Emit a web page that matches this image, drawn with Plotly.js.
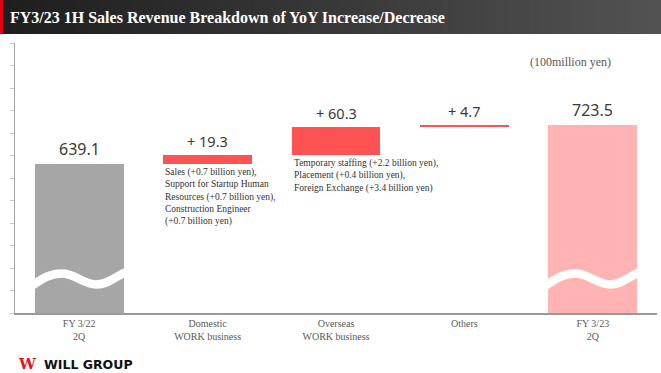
<!DOCTYPE html>
<html>
<head>
<meta charset="utf-8">
<script src="https://cdn.plot.ly/plotly-3.0.1.min.js"></script>
<style>html,body{margin:0;padding:0;background:#fff;}#chart{width:661px;height:373px;}</style>
</head>
<body>
<div id="chart"></div>
<script>
// ---- data ----
const titleText = 'FY3/23 1H Sales Revenue Breakdown of YoY Increase/Decrease';
const categories = ['FY 3/22<br>2Q', 'Domestic<br>WORK business', 'Overseas<br>WORK business', 'Others', 'FY 3/23<br>2Q'];
const measures = ['total', 'delta', 'delta', 'delta', 'total'];
const values = [639.1, 19.3, 60.3, 4.7, 723.5];
const notes = [
  '',
  'Sales (+0.7 billion yen),<br>Support for Startup Human<br>Resources (+0.7 billion yen),<br>Construction Engineer<br>(+0.7 billion yen)',
  'Temporary staffing (+2.2 billion yen),<br>Placement (+0.4 billion yen),<br>Foreign Exchange (+3.4 billion yen)',
  '',
  ''
];
const unitLabel = '(100million yen)';
const brandName = 'WILL GROUP';

// ---- styles ----
const barColors = ['#A6A6A6', '#FF5252', '#FF5252', '#FF5252', '#FFB3B3'];
const W = 661, H = 373;
const M = {l: 15, r: 4, t: 43, b: 60};
const plotW = W - M.l - M.r, plotH = H - M.t - M.b;
const yMin = 316.7, yMax = 900.9;
const kY = plotH / (yMax - yMin);      // px per value unit
const kX = plotW / categories.length;  // px per category
const barWidth = 0.693;

// running bases
const xs = categories.map((c, i) => i);
const bases = [];
let running = 0;
values.forEach((v, i) => {
  if (measures[i] === 'total') { bases.push(0); running = v; }
  else { bases.push(running); running += v; }
});
const tops = values.map((v, i) => bases[i] + v);

const trace = {
  type: 'bar', x: xs, y: values, base: bases, width: barWidth,
  marker: {color: barColors, line: {width: 0}},
  hoverinfo: 'skip', showlegend: false
};

const annotations = [];
values.forEach((v, i) => {
  const isTotal = measures[i] === 'total';
  annotations.push({
    x: i, y: tops[i], xref: 'x', yref: 'y', yanchor: 'bottom', xanchor: 'center', yshift: 2,
    text: isTotal ? v.toFixed(1) : '+ ' + v.toFixed(1), showarrow: false,
    font: {family: 'Noto Sans, Roboto, sans-serif', size: isTotal ? 16 : 14.5, color: '#3a3a3a'}
  });
  if (notes[i]) {
    annotations.push({
      x: i - barWidth / 2, y: bases[i], xref: 'x', yref: 'y', xanchor: 'left', yanchor: 'top', yshift: -1,
      align: 'left', text: notes[i], showarrow: false,
      font: {family: 'Liberation Serif, serif', size: 9.5, color: '#333'}
    });
  }
});
annotations.push({
  xref: 'paper', yref: 'paper', x: (570 - M.l) / plotW, y: (H - M.b - 62) / plotH,
  xanchor: 'center', yanchor: 'middle', showarrow: false, text: unitLabel,
  font: {family: 'Liberation Serif, serif', size: 12, color: '#595959'}
});
// brand
annotations.push({
  xref: 'paper', yref: 'paper', x: (16 - M.l) / plotW, y: (H - M.b - 364) / plotH,
  xanchor: 'left', yanchor: 'middle', showarrow: false, text: '<b>W</b>',
  font: {family: 'DejaVu Serif, serif', size: 15, color: '#E8141B'}
});
annotations.push({
  xref: 'paper', yref: 'paper', x: (42 - M.l) / plotW, y: (H - M.b - 364) / plotH,
  xanchor: 'left', yanchor: 'middle', showarrow: false, text: '<b>' + brandName + '</b>',
  font: {family: 'DejaVu Sans, sans-serif', size: 12.5, color: '#111'}
});

// shapes: title bar gradient, red strip, axis-break waves
const shapes = [];
const N = 60;
const px2paperX = px => (px - M.l) / plotW;
const px2paperY = py => (H - M.b - py) / plotH;
for (let s = 0; s < N; s++) {
  const t = s / (N - 1);
  const c = Math.round(0x1e + (0x52 - 0x1e) * t);
  const hex = '#' + [c, c, c].map(n => n.toString(16).padStart(2, '0')).join('');
  shapes.push({
    type: 'rect', xref: 'paper', yref: 'paper', layer: 'below',
    x0: px2paperX(s * W / N), x1: px2paperX((s + 1) * W / N + 1),
    y0: px2paperY(34), y1: px2paperY(0), fillcolor: hex, line: {width: 0}
  });
}
shapes.push({
  type: 'rect', xref: 'paper', yref: 'paper', layer: 'below',
  x0: px2paperX(0), x1: px2paperX(3), y0: px2paperY(34), y1: px2paperY(0),
  fillcolor: '#E60012', line: {width: 0}
});
// wave break on the total bars
const wavePts = [[-49, 26], [-35, 36], [-28, 39.5], [-17, 39.5], [-5, 39.5], [5, 28.5], [17, 28.5], [29, 28.5], [37, 37], [47, 41]];
measures.forEach((m, i) => {
  if (m !== 'total') return;
  const P = wavePts.map(([dx, dy]) => [(i + dx / kX).toFixed(4), (yMin + dy / kY).toFixed(3)]);
  let d = 'M ' + P[0].join(',');
  for (let j = 1; j < P.length; j += 3) d += ' C ' + P[j].join(',') + ' ' + P[j + 1].join(',') + ' ' + P[j + 2].join(',');
  shapes.push({type: 'path', xref: 'x', yref: 'y', layer: 'above', path: d, line: {color: '#ffffff', width: 8.5}});
});

const layout = {
  width: W, height: H, margin: M,
  paper_bgcolor: '#ffffff', plot_bgcolor: '#ffffff',
  title: {
    text: '<b>' + titleText + '</b>', xref: 'container', yref: 'container',
    x: 10 / W, xanchor: 'left', y: 1 - 17 / H, yanchor: 'middle',
    font: {family: 'Liberation Serif, serif', size: 16, color: '#ffffff'}
  },
  xaxis: {
    range: [-0.5, categories.length - 0.5], tickvals: xs, ticktext: categories,
    showline: true, linecolor: '#999999', linewidth: 1.5, ticks: '', showgrid: false, zeroline: false,
    tickfont: {family: 'Liberation Serif, serif', size: 10, color: '#595959'}, fixedrange: true
  },
  yaxis: {
    range: [yMin, yMax], showticklabels: false, showgrid: false, zeroline: false,
    showline: true, linecolor: '#a6a6a6', linewidth: 1,
    ticks: 'outside', ticklen: 4, tickcolor: '#c8c8c8', tick0: yMin, dtick: (yMax - yMin) / 12, fixedrange: true
  },
  bargap: 0, shapes: shapes, annotations: annotations, showlegend: false
};

Plotly.newPlot('chart', [trace], layout, {displayModeBar: false, staticPlot: true});
</script>
</body>
</html>
